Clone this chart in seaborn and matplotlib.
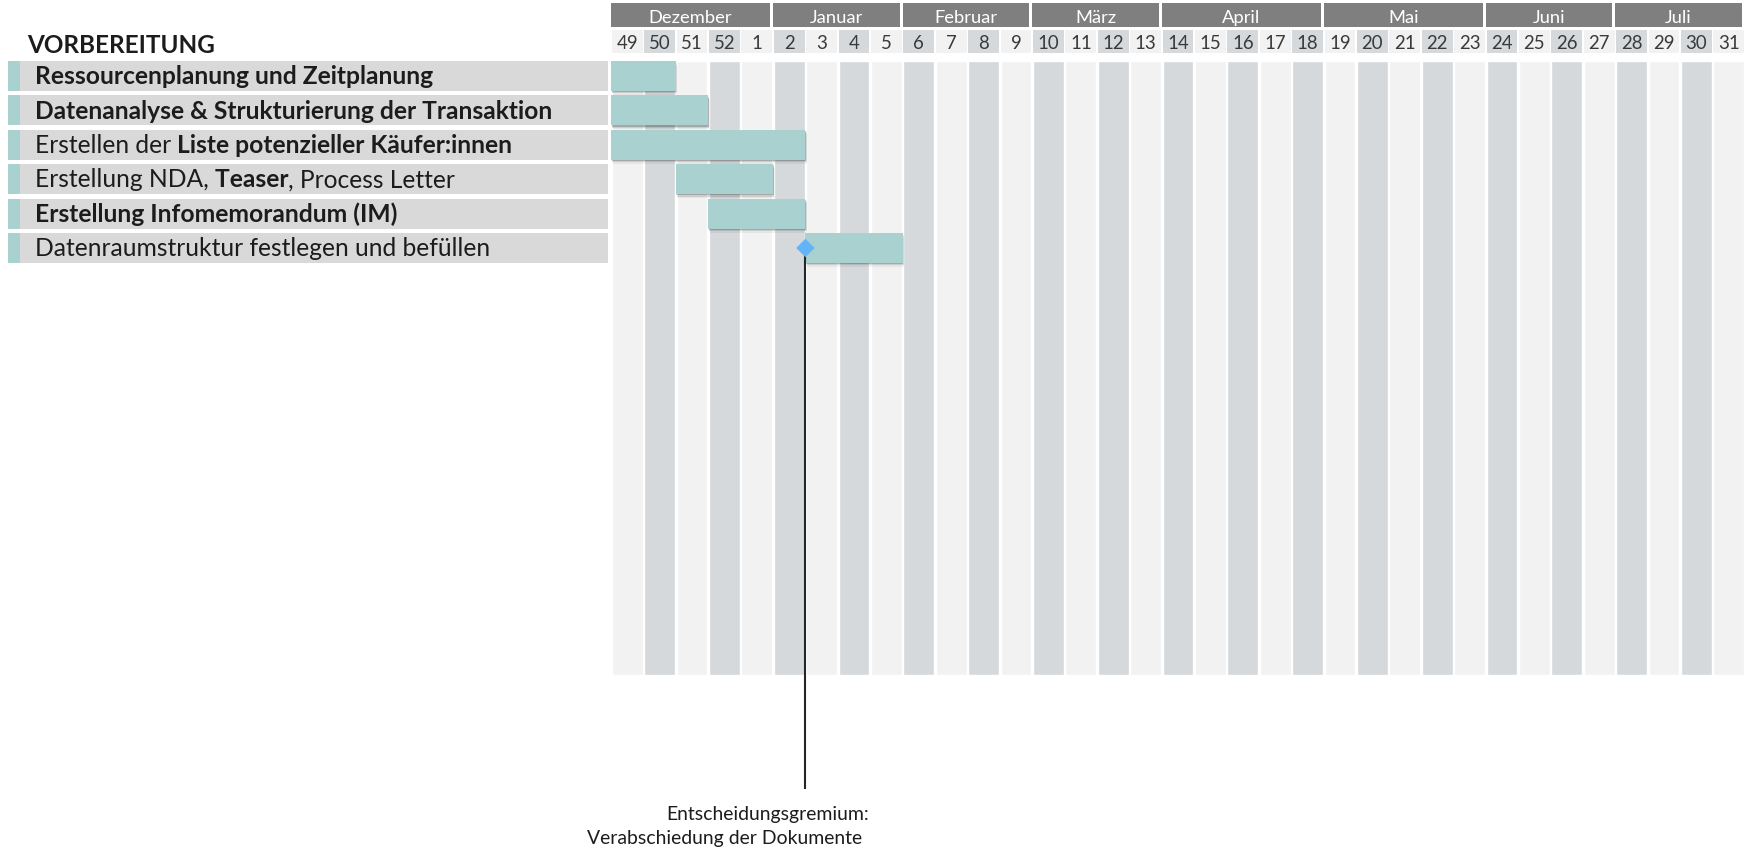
import matplotlib
matplotlib.use("Agg")
import matplotlib.pyplot as plt
import seaborn as sns
import pandas as pd
from matplotlib.patches import Rectangle

# ---------------- data ----------------
months = ["Dezember", "Januar", "Februar", "März", "April", "Mai", "Juni", "Juli"]
month_week_counts = [5, 4, 4, 4, 5, 5, 4, 4]
week_numbers = [49, 50, 51, 52, 1, 2, 3, 4, 5, 6, 7, 8, 9, 10, 11, 12, 13, 14, 15,
                16, 17, 18, 19, 20, 21, 22, 23, 24, 25, 26, 27, 28, 29, 30, 31]
section_title = "VORBEREITUNG"
task_label_parts = [
    ["Ressourcenplanung und Zeitplanung"],
    ["Datenanalyse & Strukturierung der Transaktion"],
    ["Erstellen der", " Liste potenzieller Käufer:innen"],
    ["Erstellung NDA,", " Teaser", ", Process Letter"],
    ["Erstellung Infomemorandum (IM)"],
    ["Datenraumstruktur festlegen und befüllen"],
]
task_label_bold = [
    [True],
    [True],
    [False, True],
    [False, True, False],
    [True],
    [False],
]
task_start_weeks = [49, 49, 49, 51, 52, 3]
task_durations = [2, 3, 6, 3, 3, 3]
milestone_week = 3          # milestone at start of this week
milestone_task = 5          # row index of the milestone
milestone_lines = ["Entscheidungsgremium:", "Verabschiedung der Dokumente"]

# ---------------- style ----------------
sns.set_theme(style="white")
FONT = ["Lato", "DejaVu Sans"]
plt.rcParams["font.family"] = FONT

TEAL = "#a8d1d0"
BOX = "#d9d9d9"
LIGHT = "#f2f2f2"
DARK = "#d5d9dc"
MONTH = "#7f7f7f"
TXT = "#1c1c1c"
WEEK_TXT = "#3a3a3a"
DIAMOND = "#62b4f7"

W, H = 1752, 850
X0, X1 = 611, 1745
Y_TOP, Y_BOT = 61, 675
ROW0, PITCH = 76.0, 34.4
n = len(week_numbers)
PXW = (X1 - X0) / n


def ry(px):
    return (px - ROW0) / PITCH


def rx(px):
    return (px - X0) / PXW


fig = plt.figure(figsize=(W / 100, H / 100), dpi=100)
fig.patch.set_facecolor("white")
renderer = fig.canvas.get_renderer()


def fit(text, weight, target):
    t = fig.text(0, 0, text, fontsize=20, fontweight=weight, family=FONT)
    w = t.get_window_extent(renderer).width
    t.remove()
    return 20 * target / w


lab_fs = fit("Datenraumstruktur festlegen und befüllen", "normal", 457)
head_fs = fit(section_title, "bold", 187)
week_fs = fit("20", "normal", 21.5)
month_fs = fit("Dezember", "normal", 84)
ann_fs = fit(milestone_lines[0], "normal", 203)

ax = fig.add_axes([X0 / W, 1 - Y_BOT / H, (X1 - X0) / W, (Y_BOT - Y_TOP) / H])
ax.set_xlim(0, n)
ax.set_ylim(ry(Y_BOT), ry(Y_TOP))
ax.axis("off")

lab = fig.add_axes([0, 1 - Y_BOT / H, X0 / W, (Y_BOT - Y_TOP) / H], sharey=ax)
lab.set_xlim(0, X0)
lab.axis("off")

# ---------------- background columns + week header ----------------
cols = pd.DataFrame({"idx": range(n), "week": week_numbers})
cols["color"] = [LIGHT if i % 2 == 0 else DARK for i in cols["idx"]]
col_w = (PXW - 1.5) / PXW
ax.bar(cols["idx"] + 0.5, ry(Y_BOT) - ry(Y_TOP), bottom=ry(Y_TOP), width=col_w,
       color=cols["color"], zorder=0)
for i, wk, c in zip(cols["idx"], cols["week"], cols["color"]):
    ax.add_patch(Rectangle((i + 0.5 - col_w / 2, ry(30)), col_w, ry(53) - ry(30),
                           facecolor=c, edgecolor="none", clip_on=False, zorder=1))
    ax.text(i + 0.5, ry(49.3), str(wk), ha="center", va="baseline", fontsize=week_fs,
            color=WEEK_TXT, clip_on=False)

# ---------------- month header ----------------
start = 0
gap = 3 / PXW
for m, cnt in zip(months, month_week_counts):
    ax.add_patch(Rectangle((start, ry(3)), cnt - gap, ry(27) - ry(3), facecolor=MONTH,
                           edgecolor="none", clip_on=False, zorder=1))
    ax.text(start + (cnt - gap) / 2, ry(22.8), m, ha="center", va="baseline",
            fontsize=month_fs, color="white", clip_on=False)
    start += cnt

# ---------------- task bars ----------------
bar_h = 30 / PITCH
starts_idx = [week_numbers.index(w) for w in task_start_weeks]
rows = list(range(len(task_durations)))
for dy, dx, a in [(1.2, 0.6, 0.18), (2.5, 1.2, 0.11), (4.0, 1.8, 0.05)]:
    ax.barh([r + dy / PITCH for r in rows], task_durations, left=[s + dx / PXW for s in starts_idx],
            height=bar_h, color="black", alpha=a, zorder=2, linewidth=0)
ax.barh(rows, task_durations, left=starts_idx, height=bar_h, color=TEAL, zorder=3,
        linewidth=0)

# ---------------- milestone ----------------
mx = week_numbers.index(milestone_week)
ax.plot([mx, mx], [milestone_task, ry(789)], color="#262626", lw=1.5, clip_on=False,
        zorder=4, solid_capstyle="butt")
sns.scatterplot(x=[mx], y=[milestone_task], marker="D", s=88, color=DIAMOND,
                edgecolor="none", ax=ax, zorder=5, clip_on=False, legend=False)
ax.set_xlim(0, n)
ax.set_ylim(ry(Y_BOT), ry(Y_TOP))
ax.axis("off")
ax.text(rx(869), ry(820), milestone_lines[0], ha="right", va="baseline", fontsize=ann_fs,
        color=TXT, clip_on=False)
ax.text(rx(862), ry(844), milestone_lines[1], ha="right", va="baseline", fontsize=ann_fs,
        color=TXT, clip_on=False)

# ---------------- label column ----------------
lab.text(27, ry(53), section_title, ha="left", va="baseline", fontsize=head_fs,
         fontweight="bold", color=TXT, clip_on=False)
hh = bar_h / 2
for r, parts, bolds in zip(rows, task_label_parts, task_label_bold):
    lab.add_patch(Rectangle((20, r - hh), 588, 2 * hh, facecolor=BOX, edgecolor="none",
                            zorder=1))
    lab.add_patch(Rectangle((8, r - hh), 12, 2 * hh, facecolor=TEAL, edgecolor="none",
                            zorder=1))
    prev = None
    for p, b in zip(parts, bolds):
        if prev is None:
            prev = lab.text(35, r + 8.3 / PITCH, p, ha="left", va="baseline", fontsize=lab_fs,
                            fontweight="bold" if b else "normal", color=TXT, zorder=3)
        else:
            prev = lab.annotate(p, xy=(1, 0), xycoords=prev, va="bottom", ha="left",
                                fontsize=lab_fs, fontweight="bold" if b else "normal",
                                color=TXT, zorder=3, annotation_clip=False)

lab.set_xlim(0, X0)
lab.set_ylim(ry(Y_BOT), ry(Y_TOP))

fig.savefig("out.png", dpi=100, facecolor="white")
